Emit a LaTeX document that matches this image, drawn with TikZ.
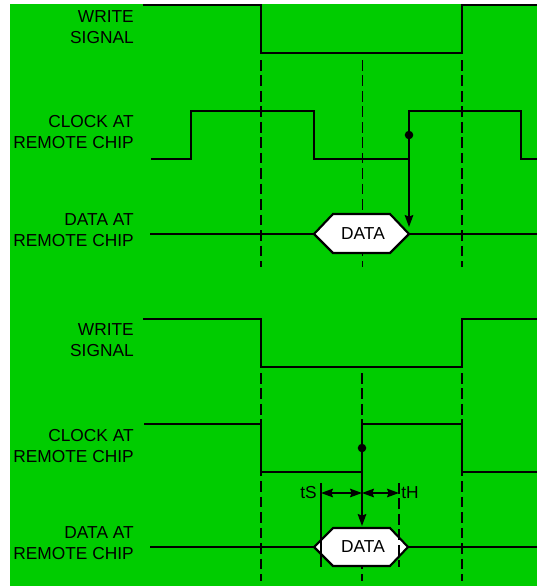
\documentclass[tikz,border=0pt]{standalone}
\usepackage{fontspec}
\setmainfont{Liberation Sans}
\usetikzlibrary{arrows.meta}
\definecolor{bggreen}{RGB}{0,204,0}
\begin{document}
\begin{tikzpicture}[x=0.75pt,y=-0.75pt,
  sig/.style={line width=1.6pt},
  guide/.style={line width=1pt, dash pattern=on 8pt off 3.6pt},
  lbl/.style={font=\fontsize{13}{15.8}\selectfont, align=right, anchor=east, inner sep=0pt},
  txt/.style={font=\fontsize{13}{15.8}\selectfont, inner sep=0pt},
  hexa/.style={line width=1.6pt, fill=white},
  arr/.style={line width=1pt, -{Stealth[length=9pt,width=6.5pt,inset=1.2pt]}},
  darr/.style={line width=1pt, {Stealth[length=9pt,width=6.5pt,inset=1.2pt]}-{Stealth[length=9pt,width=6.5pt,inset=1.2pt]}},
  thin/.style={line width=1pt}]
\useasboundingbox (0,0) rectangle (537,586);
\fill[bggreen] (10,4) rectangle (537,586);

% labels
\node[lbl] (w1) at (134,26.9) {WRITE\\SIGNAL};
\node[lbl] (c1l) at (134,132.2) {CLOCK AT\\REMOTE CHIP};
\node[lbl] (d1l) at (134,230.2) {DATA AT\\REMOTE CHIP};
\node[lbl] (w2) at (134,339.7) {WRITE\\SIGNAL};
\node[lbl] (c2l) at (134,445.7) {CLOCK AT\\REMOTE CHIP};
\node[lbl] (d2l) at (134,543.2) {DATA AT\\REMOTE CHIP};

% guides top
\draw[guide] (261,60) -- (261,267);
\draw[guide] (362.5,60) -- (362.5,267);
\draw[guide] (462,60) -- (462,267);
% guides bottom
\draw[guide] (261,373) -- (261,581);
\draw[guide] (362,373) -- (362,581);
\draw[guide] (462,373) -- (462,581);

% top signals
\draw[sig] (143,5.3) -- (261,5.3) -- (261,53) -- (462,53) -- (462,5.3) -- (537,5.3);
\draw[sig] (151,159) -- (191,159) -- (191,111) -- (314,111) -- (314,159) -- (409,159) -- (409,111) -- (521,111) -- (521,159) -- (537,159);
\draw[sig] (150,234) -- (537,234);
\draw[hexa] (314,234) -- (333,214) -- (390,214) -- (409,234) -- (390,253) -- (333,253) -- cycle;
\node[txt] (data1) at (363,234) {DATA};
\coordinate (k1) at (409,135);
\coordinate (k1e) at (409,227);
\draw[arr] (k1) -- (k1e);
\fill (k1) circle (3.2pt);

% bottom signals
\draw[sig] (143,319) -- (261,319) -- (261,367) -- (462,367) -- (462,319) -- (537,319);
\draw[sig] (144,424) -- (261,424) -- (261,472) -- (362,472) -- (362,424) -- (462,424) -- (462,472) -- (537,472);
\draw[sig] (150,547) -- (537,547);
\draw[hexa] (314,547) -- (333,528) -- (390,528) -- (408,547) -- (390,566) -- (333,566) -- cycle;
\node[txt] (data2) at (363,547) {DATA};
\coordinate (k2) at (362,448);
\coordinate (k2e) at (362,526);
\draw[arr] (k2) -- (k2e);
\fill (k2) circle (3.2pt);

% setup / hold
\coordinate (s0) at (321,483);
\coordinate (s1) at (321,567);
\coordinate (h0) at (399,483);
\coordinate (h1) at (399,567);
\draw[thin] (s0) -- (s1);
\draw[guide] (h0) -- (h1);
\coordinate (sa) at (321,493);
\coordinate (ma) at (362,493);
\coordinate (ha) at (399,493);
\draw[darr] (sa) -- (ma);
\draw[darr] (ma) -- (ha);
\node[txt, anchor=base east] (ts) at (317,498) {tS};
\node[txt, anchor=base west] (th) at (401,498) {tH};
\end{tikzpicture}
\end{document}
